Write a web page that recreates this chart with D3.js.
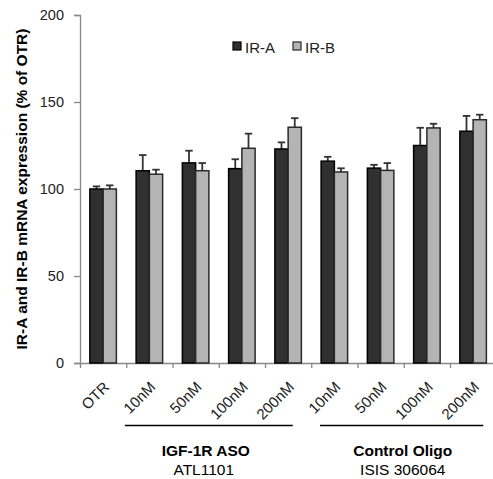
<!DOCTYPE html>
<html>
<head>
<meta charset="utf-8">
<script src="https://cdn.jsdelivr.net/npm/d3@7"></script>
<style>
  body { margin: 0; background: #fff; }
  svg { display: block; font-family: "Liberation Sans", Arial, sans-serif; }
</style>
</head>
<body>
<div id="chart"></div>
<script>
// values
const categories = ["OTR", "10nM", "50nM", "100nM", "200nM", "10nM", "50nM", "100nM", "200nM"];
const seriesNames = ["IR-A", "IR-B"];
const irA = [100, 110.5, 115, 111.7, 123, 116, 112, 125, 133.2];
const irAErr = [1.5, 9, 7, 5.4, 3.8, 2.5, 1.9, 10.2, 8.8];
const irB = [100, 108.5, 110.5, 123.4, 135.5, 109.8, 110.7, 135.1, 139.8];
const irBErr = [2.1, 2.6, 4.4, 8.4, 5.2, 2.1, 4.2, 2.4, 2.9];
const yTicks = [0, 50, 100, 150, 200];
const groups = [
    { name: "IGF-1R ASO", sub: "ATL1101", from: 1, to: 4 },
    { name: "Control Oligo", sub: "ISIS 306064", from: 5, to: 8 }
];

const width = 493, height = 479;
const plotLeft = 80, plotRight = 496.25, plotTop = 15, plotBottom = 363;
const colors = { "IR-A": "#303030", "IR-B": "#b4b4b4" };
const strokes = { "IR-A": "#000", "IR-B": "#2a2a2a" };

const svg = d3.select("#chart").append("svg")
    .attr("width", width)
    .attr("height", height);

const idx = d3.range(categories.length);

// category slots (no padding) and bar pairs inside them
const xCat = d3.scaleBand().domain(idx).range([plotLeft, plotRight]);
const x = d3.scaleBand().domain(idx).range([plotLeft, plotRight])
    .paddingInner(0.427).paddingOuter(0.2135);
const xSeries = d3.scaleBand().domain(seriesNames).range([0, x.bandwidth()]);
const xEdge = d3.scaleLinear().domain([0, categories.length]).range([plotLeft, plotRight]);

const y = d3.scaleLinear().domain([0, 200]).range([plotBottom, plotTop]);

// y axis
const yAxis = svg.append("g")
    .attr("transform", `translate(${plotLeft},0)`)
    .call(d3.axisLeft(y).tickValues(yTicks).tickSize(6).tickPadding(10));
yAxis.select(".domain").attr("stroke", "#888").attr("stroke-width", 1.3);
yAxis.selectAll(".tick line").attr("stroke", "#888").attr("stroke-width", 1.3);
yAxis.selectAll(".tick text")
    .attr("fill", "#222")
    .style("font-size", "14.5px");

// x axis (ticks at category edges)
const xAxis = svg.append("g")
    .attr("transform", `translate(0,${plotBottom})`)
    .call(d3.axisBottom(xEdge).tickValues(d3.range(categories.length + 1))
        .tickFormat("").tickSize(5).tickSizeOuter(0));
xAxis.select(".domain").attr("stroke", "#888").attr("stroke-width", 1.3);
xAxis.selectAll(".tick line").attr("stroke", "#888").attr("stroke-width", 1.3);

// category labels, rotated
svg.append("g")
    .selectAll("text")
    .data(idx)
    .join("text")
    .attr("transform", i => `translate(${xCat(i) + xCat.bandwidth() / 2 + 7},388) rotate(-45)`)
    .attr("text-anchor", "end")
    .attr("fill", "#222")
    .style("font-size", "15px")
    .text(i => categories[i]);

// bars
const rows = idx.map(i => [
    { key: "IR-A", i: i, v: irA[i], e: irAErr[i] },
    { key: "IR-B", i: i, v: irB[i], e: irBErr[i] }
]).flat();

// error bars (upper only)
const err = svg.append("g")
    .selectAll("g")
    .data(rows)
    .join("g")
    .attr("stroke", "#333")
    .attr("stroke-width", 1.8);
err.append("line")
    .attr("x1", d => x(d.i) + xSeries(d.key) + xSeries.bandwidth() / 2)
    .attr("x2", d => x(d.i) + xSeries(d.key) + xSeries.bandwidth() / 2)
    .attr("y1", d => y(d.v))
    .attr("y2", d => y(d.v + d.e));
err.append("line")
    .attr("x1", d => x(d.i) + xSeries(d.key) + xSeries.bandwidth() / 2 - 3.7)
    .attr("x2", d => x(d.i) + xSeries(d.key) + xSeries.bandwidth() / 2 + 3.7)
    .attr("y1", d => y(d.v + d.e))
    .attr("y2", d => y(d.v + d.e));

svg.append("g")
    .selectAll("rect")
    .data(rows)
    .join("rect")
    .attr("x", d => x(d.i) + xSeries(d.key))
    .attr("y", d => y(d.v))
    .attr("width", xSeries.bandwidth())
    .attr("height", d => y(0) - y(d.v))
    .attr("fill", d => colors[d.key])
    .attr("stroke", d => strokes[d.key])
    .attr("stroke-width", 1.5);

// group brackets and names
const grp = svg.append("g").selectAll("g").data(groups).join("g");
grp.append("line")
    .attr("x1", (d, k) => xCat(d.from) + xCat.step() * (k === 0 ? -0.03 : 0.19))
    .attr("x2", (d, k) => xCat(d.to) + xCat.step() * (k === 0 ? 0.6 : 0.72))
    .attr("y1", 425.5)
    .attr("y2", 425.5)
    .attr("stroke", "#000")
    .attr("stroke-width", 1.5);
grp.append("text")
    .attr("x", (d, k) => (xCat(d.from) + xCat(d.to) + xCat.step()) / 2 + (k === 0 ? -13 : -1))
    .attr("y", 455.5)
    .attr("text-anchor", "middle")
    .style("font-size", "15.5px")
    .style("font-weight", "bold")
    .text(d => d.name);
grp.append("text")
    .attr("x", (d, k) => (xCat(d.from) + xCat(d.to) + xCat.step()) / 2 + (k === 0 ? -15 : -1))
    .attr("y", 475)
    .attr("text-anchor", "middle")
    .style("font-size", "15.5px")
    .text(d => d.sub);

// y axis title
svg.append("text")
    .attr("transform", `translate(27,${(plotTop + plotBottom) / 2}) rotate(-90)`)
    .attr("text-anchor", "middle")
    .style("font-size", "15.5px")
    .style("font-weight", "bold")
    .text("IR-A and IR-B mRNA expression (% of OTR)");

// legend
const legend = svg.append("g")
    .selectAll("g")
    .data(seriesNames)
    .join("g")
    .attr("transform", (d, k) => `translate(${233 + k * 60},42)`);
legend.append("rect")
    .attr("width", 8)
    .attr("height", 8)
    .attr("fill", d => colors[d])
    .attr("stroke", d => strokes[d])
    .attr("stroke-width", 1.2);
legend.append("text")
    .attr("x", 12)
    .attr("y", 11)
    .attr("fill", "#222")
    .style("font-size", "15px")
    .text(d => d);
</script>
</body>
</html>
